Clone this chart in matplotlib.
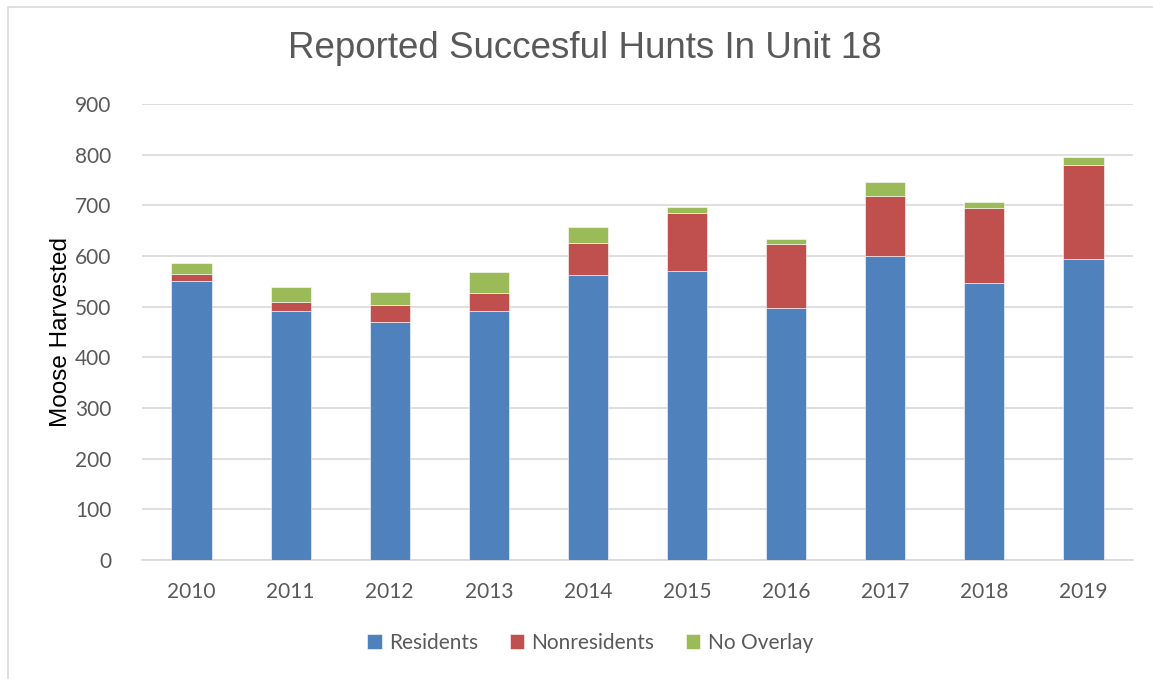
import numpy as np
import matplotlib.pyplot as plt
from matplotlib.patches import Rectangle

years = ['2010', '2011', '2012', '2013', '2014', '2015', '2016', '2017', '2018', '2019']
residents = [551, 491, 469, 492, 563, 570, 497, 600, 546, 594]
nonresidents = [14, 19, 34, 34, 63, 114, 126, 119, 149, 186]
no_overlay = [22, 28, 25, 42, 31, 13, 10, 28, 12, 15]

blue = '#4F81BD'
red = '#C0504D'
green = '#9BBB59'
grey = '#595959'

fig = plt.figure(figsize=(11.53, 6.79), dpi=100)
# outer chart border
fig.patches.append(Rectangle((8 / 1153, -0.01), 1.1, 1.0 - 7 / 679 + 0.01,
                             transform=fig.transFigure, fill=False,
                             edgecolor='#D9D9D9', linewidth=1.2))

ax = fig.add_axes([142 / 1153, 119 / 679, 991 / 1153, 456 / 679])

x = np.arange(len(years))
res = np.array(residents)
nonres = np.array(nonresidents)
noov = np.array(no_overlay)
w = 0.405
ax.bar(x, res, w, color=blue, edgecolor='#FFFFFF', linewidth=0.4, label='Residents', zorder=3)
ax.bar(x, nonres, w, bottom=res, color=red, edgecolor='#FFFFFF', linewidth=0.4,
       label='Nonresidents', zorder=3)
ax.bar(x, noov, w, bottom=res + nonres, color=green, edgecolor='#FFFFFF', linewidth=0.4,
       label='No Overlay', zorder=3)

ax.set_xlim(-0.5, len(years) - 0.5)
ax.set_ylim(0, 900)
ax.set_yticks(np.arange(0, 901, 100))
ax.set_xticks(x)
ax.set_xticklabels(years)
ax.yaxis.grid(True, color='#D9D9D9', linewidth=1.2, zorder=0)
ax.set_axisbelow(True)
for s in ['top', 'right', 'left']:
    ax.spines[s].set_visible(False)
ax.spines['bottom'].set_color('#D9D9D9')
ax.spines['bottom'].set_linewidth(1.2)
ax.tick_params(length=0, labelsize=15, labelcolor=grey)
ax.tick_params(axis='x', pad=16)
ax.tick_params(axis='y', pad=22)
for lab in ax.get_xticklabels() + ax.get_yticklabels():
    lab.set_family('Lato')

ax.set_ylabel('Moose Harvested', fontsize=17.5, family='Liberation Sans', color='black',
              labelpad=2)

fig.text(585 / 1153, 1 - 48 / 679, 'Reported Succesful Hunts In Unit 18', ha='center',
         va='center', fontsize=26.5, family='Liberation Sans', color=grey)

leg = fig.legend(loc='center', bbox_to_anchor=(590 / 1153, 1 - 643 / 679), ncol=3,
                 frameon=False, handlelength=0.7, handleheight=0.7, handletextpad=0.35,
                 columnspacing=1.5, prop={'family': 'Lato', 'size': 15})
for t in leg.get_texts():
    t.set_color(grey)

fig.savefig('out.png', dpi=100)
